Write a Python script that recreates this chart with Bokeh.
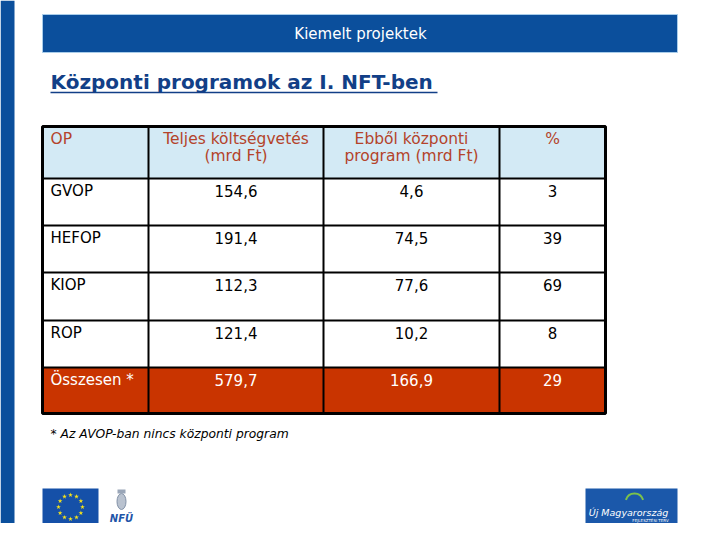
import math
from bokeh.plotting import figure
from bokeh.models import Range1d
from bokeh.core.properties import value
from bokeh.embed import file_html
from bokeh.resources import INLINE

# ---------------- data ----------------
slide_header = "Kiemelt projektek"
title = "Központi programok az I. NFT-ben"
col_headers = [["OP"], ["Teljes költségvetés", "(mrd Ft)"], ["Ebből központi", "program (mrd Ft)"], ["%"]]
ops = ["GVOP", "HEFOP", "KIOP", "ROP"]
total_budget = [154.6, 191.4, 112.3, 121.4]
central_program = [4.6, 74.5, 77.6, 10.2]
central_pct = [3, 39, 69, 8]
sum_label = "Összesen *"
sum_total = 579.7
sum_central = 166.9
sum_pct = 29
footnote = "* Az AVOP-ban nincs központi program"

# ---------------- styles / layout ----------------
FONT = value("DejaVu Sans")
BLUE = "#0b4f9c"
HEAD_BG = "#d3eaf5"
HEAD_TXT = "#b4432a"
SUM_BG = "#c93400"

col_edges = [42, 148, 323, 499, 605]
row_edges = [126, 178, 225, 272, 320, 367, 413]

p = figure(width=704, height=523, output_backend="svg", toolbar_location=None,
           x_range=Range1d(0, 704), y_range=Range1d(523, 0),
           x_axis_type=None, y_axis_type=None, min_border=0)
p.min_border_left = p.min_border_right = p.min_border_top = p.min_border_bottom = 0
p.outline_line_color = None
p.xgrid.visible = False
p.ygrid.visible = False
p.background_fill_color = "white"
p.border_fill_color = "white"

def fmt(v):
    return f"{v:.1f}".replace(".", ",")

# side strips
p.quad(left=[0, 705], right=[14, 720], top=[0, 0], bottom=[539, 539], fill_color=BLUE, line_color=None)

# header bar
p.quad(left=[42], right=[677], top=[14], bottom=[52], fill_color=BLUE, line_color="#a9cdea", line_width=1)
p.text(x=[360], y=[33], text=[slide_header], text_font=FONT, text_font_size="15px",
       text_color="white", text_align="center", text_baseline="middle")

# title
p.text(x=[50], y=[81], text=[title], text_font=FONT, text_font_size="20px", text_font_style="bold",
       text_color="#123f87", text_align="left", text_baseline="middle")
p.segment(x0=[50], y0=[92], x1=[437], y1=[92], line_color="#123f87", line_width=1.5)

# table backgrounds
p.quad(left=[col_edges[0]], right=[col_edges[-1]], top=[row_edges[0]], bottom=[row_edges[1]],
       fill_color=HEAD_BG, line_color=None)
p.quad(left=[col_edges[0]], right=[col_edges[-1]], top=[row_edges[1]], bottom=[row_edges[-2]],
       fill_color="white", line_color=None)
p.quad(left=[col_edges[0]], right=[col_edges[-1]], top=[row_edges[-2]], bottom=[row_edges[-1]],
       fill_color=SUM_BG, line_color=None)

# grid lines
inner_x = col_edges[1:-1]
p.segment(x0=inner_x, y0=[row_edges[0]] * len(inner_x), x1=inner_x, y1=[row_edges[-1]] * len(inner_x),
          line_color="black", line_width=2)
inner_y = row_edges[1:-1]
p.segment(x0=[col_edges[0]] * len(inner_y), y0=inner_y, x1=[col_edges[-1]] * len(inner_y), y1=inner_y,
          line_color="black", line_width=2)
p.quad(left=[col_edges[0]], right=[col_edges[-1]], top=[row_edges[0]], bottom=[row_edges[-1]],
       fill_color=None, line_color="black", line_width=3)

# column text anchors
def col_anchor(i):
    if i == 0:
        return col_edges[0] + 8, "left"
    return (col_edges[i] + col_edges[i + 1]) / 2, "center"

# header text
for i, lines in enumerate(col_headers):
    x, al = col_anchor(i)
    for j, line in enumerate(lines):
        p.text(x=[x], y=[row_edges[0] + 12 + 17 * j], text=[line], text_font=FONT, text_font_size="15.5px",
               text_color=HEAD_TXT, text_align=al, text_baseline="middle")

# body rows
for r in range(len(ops)):
    y = row_edges[r + 1] + 12
    cells = [ops[r], fmt(total_budget[r]), fmt(central_program[r]), str(central_pct[r])]
    for i, c in enumerate(cells):
        x, al = col_anchor(i)
        p.text(x=[x], y=[y], text=[c], text_font=FONT, text_font_size="15px",
               text_color="black", text_align=al, text_baseline="middle")

# sum row
y = row_edges[-2] + 12
for i, c in enumerate([sum_label, fmt(sum_total), fmt(sum_central), str(sum_pct)]):
    x, al = col_anchor(i)
    p.text(x=[x], y=[y], text=[c], text_font=FONT, text_font_size="15px",
           text_color="white", text_align=al, text_baseline="middle")

# footnote
p.text(x=[50], y=[433], text=[footnote], text_font=FONT, text_font_size="12.3px", text_font_style="italic",
       text_color="black", text_align="left", text_baseline="middle")

# EU flag logo
p.quad(left=[42], right=[98], top=[488], bottom=[525], fill_color="#1550a8", line_color=None)
sx = [70 + 12 * math.cos(2 * math.pi * k / 12) for k in range(12)]
sy = [506.5 + 12 * math.sin(2 * math.pi * k / 12) for k in range(12)]
p.scatter(x=sx, y=sy, marker="star", size=5, fill_color="#f5e21a", line_color=None)

# coat of arms + NFÜ
p.ellipse(x=[121], y=[501], width=9, height=16, fill_color="#b9c2cf", line_color="#8090a6")
p.quad(left=[117], right=[125], top=[489], bottom=[493], fill_color="#9aa6b8", line_color=None)
p.text(x=[121], y=[518], text=["NFÜ"], text_font=FONT, text_font_size="10px", text_font_style="bold italic",
       text_color="#1f55a8", text_align="center", text_baseline="middle")

# Új Magyarország logo
p.quad(left=[585], right=[677], top=[488], bottom=[525], fill_color="#1b58aa", line_color=None)
p.arc(x=[634], y=[502], radius=9, start_angle=0.3, end_angle=math.pi - 0.3, line_color="#7cc24a",
      line_width=2)
p.text(x=[628], y=[512], text=["Új Magyarország"], text_font=FONT, text_font_size="9.5px",
       text_font_style="italic", text_color="white", text_align="center", text_baseline="middle")
p.text(x=[650], y=[520], text=["FEJLESZTÉSI TERV"], text_font=FONT, text_font_size="4px",
       text_color="white", text_align="center", text_baseline="middle")

open("out.html", "w").write(file_html(p, INLINE))
